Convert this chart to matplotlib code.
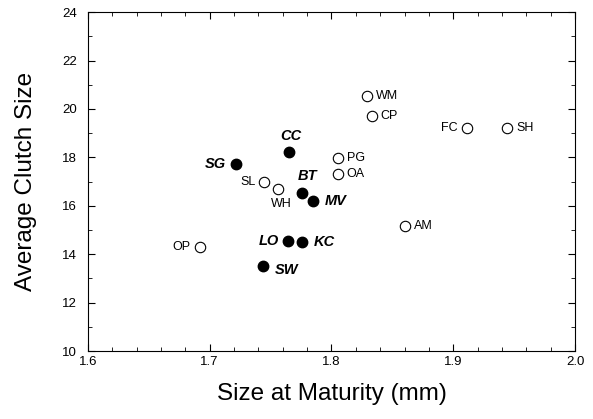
import matplotlib.pyplot as plt
from matplotlib.ticker import MultipleLocator

plt.rcParams['font.family'] = ['Liberation Sans', 'DejaVu Sans']

# Filled points (bold italic labels)
filled_names = ['SG', 'CC', 'BT', 'MV', 'LO', 'KC', 'SW']
filled_size = [1.722, 1.765, 1.776, 1.785, 1.764, 1.776, 1.744]
filled_clutch = [17.73, 18.22, 16.53, 16.20, 14.55, 14.50, 13.51]

# Open points (plain labels)
open_names = ['OP', 'SL', 'WH', 'PG', 'OA', 'WM', 'CP', 'FC', 'SH', 'AM']
open_size = [1.692, 1.745, 1.756, 1.805, 1.805, 1.829, 1.833, 1.911, 1.944, 1.860]
open_clutch = [14.30, 16.98, 16.69, 17.98, 17.31, 20.54, 19.71, 19.21, 19.21, 15.17]

# label placement: (dx, dy) in pixels, horizontal alignment
label_pos = {
    'SG': (-10, 0, 'right'), 'CC': (2, 16, 'center'), 'BT': (5, 17, 'center'),
    'MV': (12, 0, 'left'), 'LO': (-9, 0, 'right'), 'KC': (11, 0, 'left'),
    'SW': (12, -4, 'left'),
    'OP': (-9, 0, 'right'), 'SL': (-9, 0, 'right'), 'WH': (3, -15, 'center'),
    'PG': (9, 0, 'left'), 'OA': (9, 0, 'left'), 'WM': (9, 0, 'left'),
    'CP': (9, 0, 'left'), 'FC': (-9, 0, 'right'), 'SH': (9, 0, 'left'),
    'AM': (9, 0, 'left'),
}

fig = plt.figure(figsize=(5.93, 4.19), dpi=100)
ax = fig.add_axes([0.148, 0.162, 0.822, 0.809])

ax.plot(open_size, open_clutch, 'o', ms=7.5, mfc='white', mec='black', mew=0.8, ls='none')
ax.plot(filled_size, filled_clutch, 'o', ms=7.5, mfc='black', mec='black', ls='none')

for names, xs, ys, bold in [(filled_names, filled_size, filled_clutch, True),
                            (open_names, open_size, open_clutch, False)]:
    for n, x, y in zip(names, xs, ys):
        dx, dy, ha = label_pos[n]
        if bold:
            ax.annotate(n, (x, y), xytext=(dx, dy), textcoords='offset pixels',
                        ha=ha, va='center', fontsize=10.5, fontweight='bold',
                        fontstyle='italic')
        else:
            ax.annotate(n, (x, y), xytext=(dx, dy), textcoords='offset pixels',
                        ha=ha, va='center', fontsize=9)

ax.set_xlim(1.6, 2.0)
ax.set_ylim(10, 24)
ax.xaxis.set_major_locator(MultipleLocator(0.1))
ax.xaxis.set_minor_locator(MultipleLocator(0.02))
ax.yaxis.set_major_locator(MultipleLocator(2))
ax.yaxis.set_minor_locator(MultipleLocator(1))
ax.tick_params(which='both', direction='in', top=True, right=True, labelsize=9.5)
ax.tick_params(which='major', length=5)
ax.tick_params(axis='y', which='major', pad=8)
ax.tick_params(which='minor', length=3)
ax.xaxis.set_major_formatter(plt.FormatStrFormatter('%.1f'))

ax.set_xlabel('Size at Maturity (mm)', fontsize=17.5, labelpad=11)
ax.set_ylabel('Average Clutch Size', fontsize=17.5, labelpad=18)

plt.savefig('out.png', dpi=100)
